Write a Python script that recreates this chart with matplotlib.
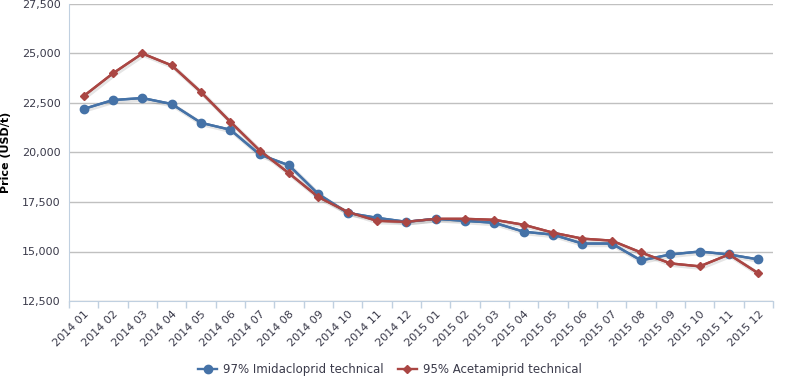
import matplotlib
matplotlib.use('Agg')
import matplotlib.pyplot as plt
import matplotlib.patheffects as pe
from matplotlib.ticker import FuncFormatter, FixedLocator

months = ['2014 01', '2014 02', '2014 03', '2014 04', '2014 05', '2014 06',
          '2014 07', '2014 08', '2014 09', '2014 10', '2014 11', '2014 12',
          '2015 01', '2015 02', '2015 03', '2015 04', '2015 05', '2015 06',
          '2015 07', '2015 08', '2015 09', '2015 10', '2015 11', '2015 12']

imidacloprid = [22200, 22650, 22750, 22450, 21500, 21150, 19900, 19350,
                17900, 16950, 16700, 16500, 16650, 16550, 16450, 16000,
                15850, 15400, 15400, 14550, 14850, 15000, 14850, 14600]

acetamiprid = [22850, 24000, 25000, 24400, 23050, 21550, 20100, 18950,
               17750, 17000, 16550, 16500, 16650, 16650, 16600, 16350,
               15950, 15650, 15550, 14950, 14400, 14250, 14850, 13900]

BLUE = '#4572A7'
RED = '#AA4643'
TEXT = '#3a3a4a'

plt.rcParams['font.family'] = ['DejaVu Sans']

fig = plt.figure(figsize=(7.85, 3.85), dpi=100)
ax = fig.add_axes([69 / 785, 1 - 301 / 385, 704 / 785, 297 / 385])

x = list(range(len(months)))
shadow = [pe.SimpleLineShadow(offset=(1, -1), shadow_color='k', alpha=0.1, linewidth=3.2), pe.Normal()]

series = [
    (imidacloprid, BLUE, 'o', 6, '97% Imidacloprid technical'),
    (acetamiprid, RED, 'D', 4, '95% Acetamiprid technical'),
]
for values, color, marker, size, label in series:
    ax.plot(x, values, color=color, lw=1.7, path_effects=shadow, zorder=3)
    ax.plot(x, values, color=color, lw=1.7, marker=marker, ms=size, label=label, zorder=4)

ax.set_xlim(-0.5, len(months) - 0.5)
ax.set_ylim(12500, 27500)
ax.set_yticks(range(12500, 27501, 2500))
ax.yaxis.set_major_formatter(FuncFormatter(lambda v, p: f'{int(v):,}'))
ax.yaxis.grid(True, color='#C0C0C0', lw=1)
ax.set_axisbelow(True)

# ticks at category boundaries, labels at category centres
ax.xaxis.set_major_locator(FixedLocator([i - 0.5 for i in range(len(months) + 1)]))
ax.xaxis.set_major_formatter(FuncFormatter(lambda v, p: ''))
ax.set_xticks(x, minor=True)
ax.set_xticklabels(months, minor=True, rotation=45, ha='right',
                   rotation_mode='anchor', fontsize=8, color=TEXT)
ax.tick_params(axis='x', which='minor', length=0, pad=6)
ax.tick_params(axis='x', which='major', length=5, color='#C0D0E0', width=1)
ax.tick_params(axis='y', length=0, labelsize=8, labelcolor=TEXT, pad=6)

for side in ['top', 'right']:
    ax.spines[side].set_visible(False)
for side in ['left', 'bottom']:
    ax.spines[side].set_color('#C0D0E0')

ax.set_ylabel('Price (USD/t)', fontsize=8, fontweight='bold', color='black', labelpad=8)

fig.legend(loc='center', bbox_to_anchor=(390 / 785, 1 - 370 / 385), ncol=2,
           frameon=False, fontsize=8.5, handlelength=1.6, handletextpad=0.5,
           columnspacing=1.2, labelcolor=TEXT)

fig.savefig('out.png', dpi=100)
